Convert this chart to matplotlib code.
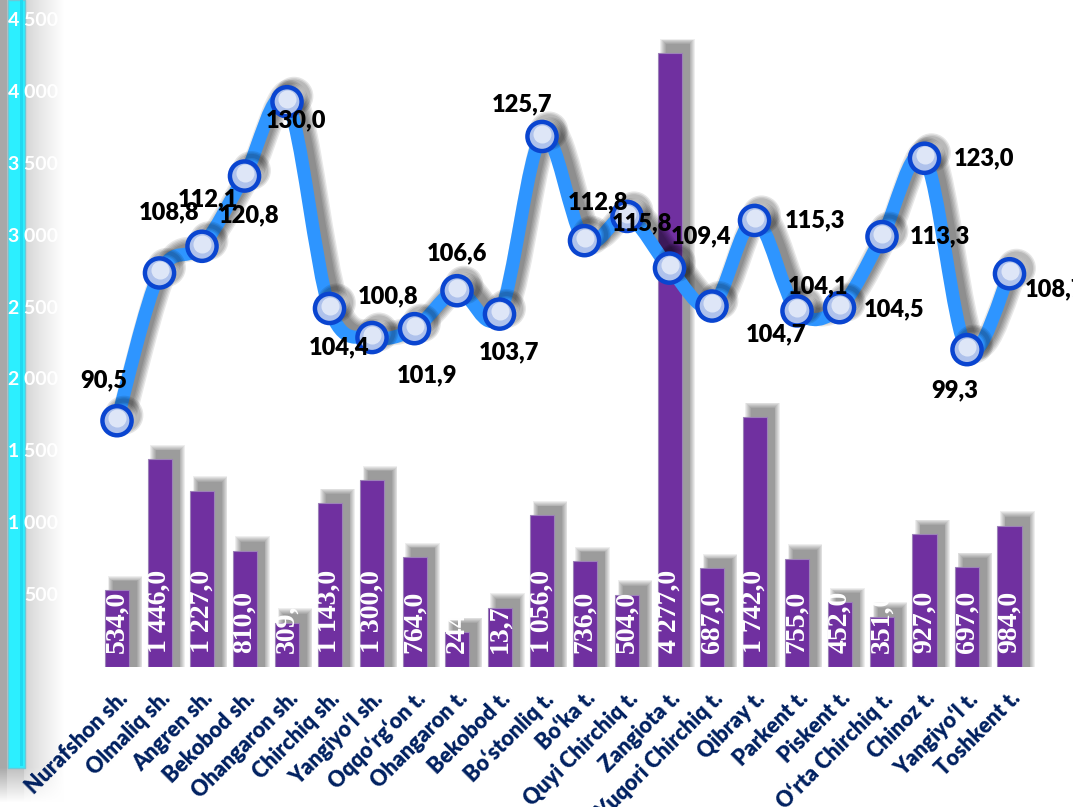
import matplotlib
matplotlib.use("Agg")
import matplotlib.pyplot as plt
import matplotlib.patheffects as pe
from matplotlib.path import Path
from matplotlib.patches import PathPatch, Rectangle
from matplotlib.transforms import blended_transform_factory, ScaledTranslation
import numpy as np

plt.rcParams['font.family'] = ['Lato', 'DejaVu Sans']

# --- data -------------------------------------------------------------
districts = ["Nurafshon sh.", "Olmaliq sh.", "Angren sh.", "Bekobod sh.",
             "Ohangaron sh.", "Chirchiq sh.", "Yangiyo‘l sh.", "Oqqo‘rg‘on t.",
             "Ohangaron t.", "Bekobod t.", "Bo‘stonliq t.", "Bo‘ka t.",
             "Quyi Chirchiq t.", "Zangiota t.", "Yuqori Chirchiq t.", "Qibray t.",
             "Parkent t.", "Piskent t.", "O‘rta Chirchiq t.", "Chinoz t.",
             "Yangiyo‘l t.", "Toshkent t."]
volume = [534.0, 1446.0, 1227.0, 810.0, 309.0, 1143.0, 1300.0, 764.0,
          244.0, 413.7, 1056.0, 736.0, 504.0, 4277.0, 687.0, 1742.0,
          755.0, 452.0, 351.0, 927.0, 697.0, 984.0]
volume_text = ["534,0", "1 446,0", "1 227,0", "810,0", "309,0", "1 143,0",
               "1 300,0", "764,0", "244,0", "13,7", "1 056,0", "736,0",
               "504,0", "4 277,0", "687,0", "1 742,0", "755,0", "452,0",
               "351,0", "927,0", "697,0", "984,0"]
growth = [90.5, 108.8, 112.1, 120.8, 130.0, 104.4, 100.8, 101.9, 106.6,
          103.7, 125.7, 112.8, 115.8, 109.4, 104.7, 115.3, 104.1, 104.5,
          113.3, 123.0, 99.3, 108.7]
yticks = [500, 1000, 1500, 2000, 2500, 3000, 3500, 4000, 4500]

# label offsets for growth labels (pixels, right / down)
lab_off = [(-13, -40), (10, -61), (6, -47), (5, 39), (9, 19), (10, 39),
           (16, -41), (13, 47), (0, -37), (9, 38), (-20, -32), (14, -38),
           (15, 7), (32, -32), (64, 28), (60, 0), (21, -25), (55, 2),
           (58, 0), (60, 0), (-12, 41), (46, 16)]

W, H = 1073, 807
fig = plt.figure(figsize=(W / 100, H / 100), dpi=100)

# --- background with left decorative bar -----------------------------
xs = np.arange(W)[None, :] * np.ones((H, 1))
ys = np.arange(H)[:, None] * np.ones((1, W))
s = np.clip((xs - 24) / 40.0, 0, 1)
v = np.where(xs < 7, 0.66, np.where(xs < 24, 0.75, 0.82 + 0.18 * s ** 0.8))
t = np.clip((ys - 767) / 35.0, 0, 1)
v = v + (1 - v) * t
bgax = fig.add_axes([0, 0, 1, 1], zorder=-10)
bgax.imshow(np.dstack([v, v, v]), aspect='auto', interpolation='bilinear')
bgax.add_patch(Rectangle((7, -1), 17, 768, facecolor='#2CEFFF',
                         edgecolor='#6BC9D8', linewidth=1))
bgax.add_patch(Rectangle((19, -1), 3, 766, facecolor='#1FD9F0',
                         edgecolor='none'))
bgax.set_xlim(-0.5, W - 0.5)
bgax.set_ylim(H - 0.5, -0.5)
bgax.set_axis_off()

# --- main axes ---------------------------------------------------------
ax = fig.add_axes([25 / W, 1 - 667 / H, 1 - 25 / W, (667 - 21) / H])
ax.set_facecolor('none')
x = np.arange(len(districts))
xlim = (-2.165, 22.494)
bw = 0.565
px_x = 42.5                     # pixels per category
px_y = 646 / 4500               # pixels per unit on bar axis

# blurred shadow for bars (to the right and above)
vol = np.array(volume)
for k in range(7):
    e = k * 0.9
    ax.bar(x + 8 / px_x, vol + (9 + e) / px_y, width=bw + 2 * e / px_x,
           color='black', alpha=0.065, linewidth=0, zorder=2)
ax.bar(x, vol, width=bw, color='#7030A0', edgecolor='#9C82B8',
       linewidth=0.8, zorder=3)
for xi, txt in zip(x, volume_text):
    ax.annotate(txt, (xi, 0), xytext=(0, 10), textcoords='offset points',
                rotation=90, ha='center', va='bottom', color='white',
                fontsize=20, fontweight='bold', family='Liberation Serif',
                zorder=4)

ax.set_xlim(*xlim)
ax.set_ylim(0, 4500)
ax.set_yticks([])
for sp in ax.spines.values():
    sp.set_visible(False)
ax.set_xticks(x)
ax.set_xticklabels(districts, rotation=45, ha='right', rotation_mode='anchor',
                   fontsize=15.5, fontweight='heavy', color='#002060')
ax.tick_params(axis='x', length=0, pad=15)

tr = blended_transform_factory(fig.transFigure, ax.transData)
for yt in yticks:
    ax.text(58 / W, yt, f"{yt:,}".replace(",", " "), transform=tr,
            ha='right', va='center', color='white', fontsize=14,
            fontweight='bold')

# --- growth line on secondary axis --------------------------------------
ax2 = ax.twinx()
ax2.set_xlim(*xlim)
ax2.set_ylim(60, 140)
ax2.axis('off')

P = np.column_stack([x, growth]).astype(float)
Pext = np.vstack([P[0], P, P[-1]])
verts = [P[0]]
codes = [Path.MOVETO]
for i in range(len(P) - 1):
    p0, p1, p2, p3 = Pext[i], Pext[i + 1], Pext[i + 2], Pext[i + 3]
    verts += [p1 + (p2 - p0) / 6, p2 - (p3 - p1) / 6, p2]
    codes += [Path.CURVE4] * 3
curve = PathPatch(Path(verts, codes), facecolor='none', edgecolor='#2E95FF',
                  linewidth=9.5, capstyle='round', joinstyle='round', zorder=5)
shadows = [pe.SimpleLineShadow(offset=(5, 4), shadow_color='black',
                               alpha=0.09, linewidth=lw)
           for lw in (8, 10, 12, 14, 16, 18)]
curve.set_path_effects(shadows + [pe.Normal()])
ax2.add_patch(curve)

mk_shadow = [pe.SimpleLineShadow(offset=(5, 4), shadow_color='black',
                                 alpha=0.1, linewidth=lw) for lw in (3, 5, 7)]
ax2.plot(x, growth, linestyle='none', marker='o', markersize=21,
         markerfacecolor='#AFC2EC', markeredgecolor='#0A45D0',
         markeredgewidth=3.2, zorder=6,
         path_effects=mk_shadow + [pe.Normal()])
ax2.plot(x, growth, linestyle='none', marker='o', markersize=13,
         markerfacecolor='#E4EBF9', markeredgecolor='none', zorder=7,
         alpha=0.9,
         transform=ax2.transData + ScaledTranslation(0, 2 / 72,
                                                     fig.dpi_scale_trans))

for xi, g, (dx, dy) in zip(x, growth, lab_off):
    ax2.annotate(f"{g:.1f}".replace(".", ","), (xi, g),
                 xytext=(dx * 0.72, -dy * 0.72), textcoords='offset points',
                 ha='center', va='center', fontsize=17, fontweight='heavy',
                 color='black', zorder=8, annotation_clip=False)

fig.savefig("out.png", dpi=100)
